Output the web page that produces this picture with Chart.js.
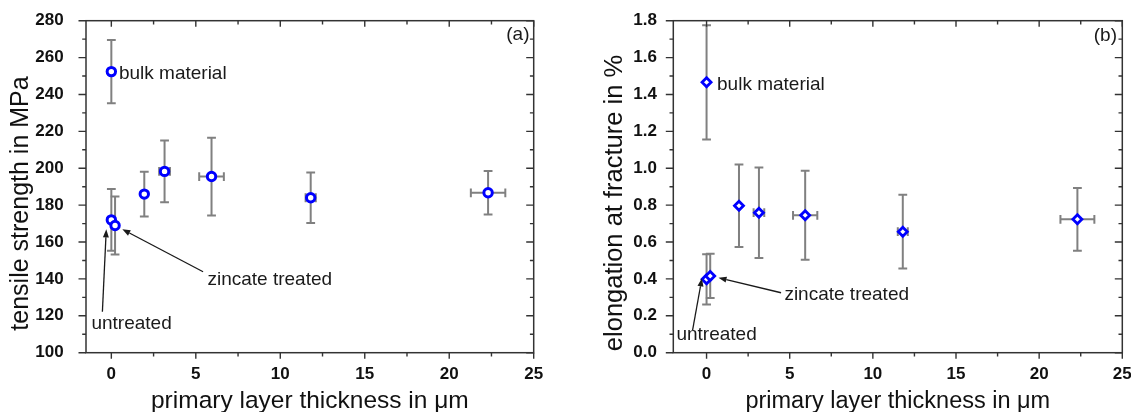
<!DOCTYPE html>
<html>
<head>
<meta charset="utf-8">
<script src="https://cdn.jsdelivr.net/npm/chart.js@4/dist/chart.umd.min.js"></script>
<style>
  html, body { margin: 0; padding: 0; background: #fff; }
  #wrap { position: relative; width: 1131px; height: 412px; overflow: hidden; }
  #cA { position: absolute; left: 0; top: 0; }
  #cB { position: absolute; left: 560px; top: 0; }
</style>
</head>
<body>
<div id="wrap">
  <canvas id="cA" width="560" height="412"></canvas>
  <canvas id="cB" width="571" height="412"></canvas>
</div>
<script>
// ---- data ----
// samples: bulk material, untreated, zincate treated, then coated with primary layer
const sampleNames   = ['bulk material', 'untreated', 'zincate treated', 'layer 2.0', 'layer 3.1', 'layer 5.9', 'layer 11.8', 'layer 22.3'];
const thickness     = [0, 0, 0.22, 1.95, 3.15, 5.93, 11.8, 22.3];     // µm
const thicknessErr  = [0, 0, 0, 0, 0.32, 0.73, 0.3, 1.02];            // µm
const tensile       = [252.4, 172, 169, 186, 198.3, 195.5, 184, 186.7]; // MPa
const tensileErr    = [17.2, 16.7, 15.7, 12.1, 16.7, 21.1, 13.7, 11.8];
const elongation    = [1.466, 0.398, 0.416, 0.797, 0.759, 0.745, 0.656, 0.723]; // %
const elongationErr = [0.31, 0.136, 0.12, 0.224, 0.245, 0.241, 0.2, 0.17];

// tick labels
const xTicks  = [0, 5, 10, 15, 20, 25];
const yTicksA = [100, 120, 140, 160, 180, 200, 220, 240, 260, 280];
const yTicksB = [0.0, 0.2, 0.4, 0.6, 0.8, 1.0, 1.2, 1.4, 1.6, 1.8];

// annotations (data coordinates)
const notesA = [
  { text: 'bulk material',   x: 0.45,  y: 251.1 },
  { text: 'zincate treated', x: 5.69,  y: 139.5 },
  { text: 'untreated',       x: -1.18, y: 115.5 },
  { text: '(a)',             x: 24.75, y: 272.2, align: 'right' }
];
const arrowsA = [
  { from: [-0.53, 122.2], to: [-0.3, 166.9] },
  { from: [5.43, 143.9],  to: [0.65, 166.9] }
];
const notesB = [
  { text: 'bulk material',   x: 0.63,  y: 1.451 },
  { text: 'zincate treated', x: 4.68,  y: 0.312 },
  { text: 'untreated',       x: -1.81, y: 0.096 },
  { text: '(b)',             x: 24.68, y: 1.72, align: 'right' }
];
const arrowsB = [
  { from: [-0.84, 0.123], to: [-0.28, 0.403] },
  { from: [4.48, 0.325],  to: [0.72, 0.406] }
];

const FONT = "'Liberation Sans', Arial, Helvetica, sans-serif";
const AXIS_COLOR = '#333333';
const ERR_COLOR = '#808080';

function decorPlugin(xs, ys, xe, ye, notes, arrows, yTitle, yTitleSize, yTitleX, yTitleY) {
  return {
    id: 'decor',
    beforeDatasetsDraw(chart) {
      const ctx = chart.ctx, sx = chart.scales.x, sy = chart.scales.y;
      ctx.save();
      ctx.strokeStyle = ERR_COLOR;
      ctx.lineWidth = 2;
      const cap = 4.4;
      for (let i = 0; i < xs.length; i++) {
        const px = sx.getPixelForValue(xs[i]);
        const py = sy.getPixelForValue(ys[i]);
        const y1 = sy.getPixelForValue(ys[i] + ye[i]);
        const y2 = sy.getPixelForValue(ys[i] - ye[i]);
        ctx.beginPath();
        ctx.moveTo(px, y1); ctx.lineTo(px, y2);
        ctx.moveTo(px - cap, y1); ctx.lineTo(px + cap, y1);
        ctx.moveTo(px - cap, y2); ctx.lineTo(px + cap, y2);
        ctx.stroke();
        if (xe[i] > 0) {
          const x1 = sx.getPixelForValue(xs[i] - xe[i]);
          const x2 = sx.getPixelForValue(xs[i] + xe[i]);
          ctx.beginPath();
          ctx.moveTo(x1, py); ctx.lineTo(x2, py);
          ctx.moveTo(x1, py - cap); ctx.lineTo(x1, py + cap);
          ctx.moveTo(x2, py - cap); ctx.lineTo(x2, py + cap);
          ctx.stroke();
        }
      }
      ctx.restore();
    },
    afterDraw(chart) {
      const ctx = chart.ctx, sx = chart.scales.x, sy = chart.scales.y;
      const { left, right, top, bottom } = chart.chartArea;
      ctx.save();
      ctx.strokeStyle = AXIS_COLOR;
      ctx.lineWidth = 1.5;
      ctx.strokeRect(left, top, right - left, bottom - top);
      ctx.lineWidth = 1.4;
      const XMAJ = 6, YMAJ = 7.5, MIN = 3.8;
      const xv = sx.ticks.map(t => t.value);
      const yv = sy.ticks.map(t => t.value);
      const xMinor = [], yMinor = [];
      for (let i = 0; i < xv.length - 1; i++) xMinor.push((xv[i] + xv[i + 1]) / 2);
      for (let i = 0; i < yv.length - 1; i++) yMinor.push((yv[i] + yv[i + 1]) / 2);
      ctx.beginPath();
      const xTick = (v, len) => {
        const p = sx.getPixelForValue(v);
        if (p < left - 0.5 || p > right + 0.5) return;
        ctx.moveTo(p, bottom); ctx.lineTo(p, bottom + len);
        ctx.moveTo(p, top); ctx.lineTo(p, top + len);
      };
      const yTick = (v, len) => {
        const p = sy.getPixelForValue(v);
        if (p < top - 0.5 || p > bottom + 0.5) return;
        ctx.moveTo(left, p); ctx.lineTo(left - len, p);
        ctx.moveTo(right, p); ctx.lineTo(right - len, p);
      };
      xv.forEach(v => xTick(v, XMAJ));
      xMinor.forEach(v => xTick(v, MIN));
      yv.forEach(v => yTick(v, YMAJ));
      yMinor.forEach(v => yTick(v, MIN));
      ctx.stroke();

      // y axis title
      ctx.save();
      ctx.translate(yTitleX, yTitleY);
      ctx.rotate(-Math.PI / 2);
      ctx.fillStyle = '#111';
      ctx.font = yTitleSize + 'px ' + FONT;
      ctx.textAlign = 'center';
      ctx.textBaseline = 'middle';
      ctx.fillText(yTitle, 0, 0);
      ctx.restore();

      // annotations
      ctx.fillStyle = '#1a1a1a';
      ctx.font = '19px ' + FONT;
      ctx.textBaseline = 'middle';
      notes.forEach(n => {
        ctx.textAlign = n.align || 'left';
        ctx.fillText(n.text, sx.getPixelForValue(n.x), sy.getPixelForValue(n.y));
      });
      // arrows
      ctx.strokeStyle = '#1a1a1a';
      ctx.lineWidth = 1.3;
      arrows.forEach(a => {
        const x1 = sx.getPixelForValue(a.from[0]), y1 = sy.getPixelForValue(a.from[1]);
        const x2 = sx.getPixelForValue(a.to[0]),   y2 = sy.getPixelForValue(a.to[1]);
        const ang = Math.atan2(y2 - y1, x2 - x1);
        const L = 8, W = 3;
        const bx = x2 - L * Math.cos(ang), by = y2 - L * Math.sin(ang);
        ctx.beginPath();
        ctx.moveTo(x1, y1); ctx.lineTo(bx, by);
        ctx.stroke();
        ctx.beginPath();
        ctx.moveTo(x2, y2);
        ctx.lineTo(bx + W * Math.sin(ang), by - W * Math.cos(ang));
        ctx.lineTo(bx - W * Math.sin(ang), by + W * Math.cos(ang));
        ctx.closePath();
        ctx.fill();
      });
      ctx.restore();
    }
  };
}

function makeChart(id, cfg) {
  const pts = thickness.map((x, i) => ({ x: x, y: cfg.values[i] }));
  return new Chart(document.getElementById(id), {
    type: 'scatter',
    data: {
      datasets: [{
        data: pts,
        pointStyle: cfg.pointStyle,
        pointRadius: cfg.radius,
        pointBorderWidth: cfg.borderWidth,
        pointBorderColor: '#0000ff',
        pointBackgroundColor: '#ffffff',
        showLine: false
      }]
    },
    options: {
      responsive: false,
      animation: false,
      events: [],
      layout: { padding: { left: 0, top: 20.7, right: cfg.padRight, bottom: 0 } },
      plugins: { legend: { display: false }, tooltip: { enabled: false } },
      scales: {
        x: {
          type: 'linear',
          min: cfg.xMin, max: 25,
          afterBuildTicks: s => { s.ticks = xTicks.map(v => ({ value: v })); },
          afterFit: s => { s.height = 59.3; s.paddingLeft = 0; s.paddingRight = 0; },
          grid: { display: false },
          border: { display: false },
          ticks: {
            color: '#111',
            font: { family: FONT, size: 17, weight: 'bold' },
            padding: 3,
            maxRotation: 0,
            autoSkip: false,
            callback: v => String(v)
          },
          title: {
            display: true,
            text: 'primary layer thickness in \u03bcm',
            color: '#111',
            font: { family: FONT, size: cfg.xTitleSize, lineHeight: 0.9 },
            padding: { top: 0, bottom: 0 }
          }
        },
        y: {
          type: 'linear',
          min: cfg.yMin, max: cfg.yMax,
          afterBuildTicks: s => { s.ticks = cfg.yTicks.map(v => ({ value: v })); },
          afterFit: s => { s.width = cfg.yWidth; s.paddingTop = 0; s.paddingBottom = 0; },
          grid: { display: false },
          border: { display: false },
          ticks: {
            color: '#111',
            font: { family: FONT, size: 17, weight: 'bold' },
            padding: cfg.yTickPad,
            autoSkip: false,
            callback: cfg.yFmt
          },
          title: { display: false }
        }
      }
    },
    plugins: [decorPlugin(thickness, cfg.values, thicknessErr, cfg.errors, cfg.notes, cfg.arrows,
                          cfg.yTitle, cfg.yTitleSize, cfg.yTitleX, cfg.yTitleY)]
  });
}

makeChart('cA', {
  values: tensile, errors: tensileErr,
  pointStyle: 'circle', radius: 4.2, borderWidth: 3,
  xMin: -1.5, yMin: 100, yMax: 280, yTicks: yTicksA,
  yFmt: v => String(v),
  yWidth: 86, yTickPad: 14.3, padRight: 26.3,
  xTitleSize: 24.5,
  yTitle: 'tensile strength in MPa', yTitleSize: 25, yTitleX: 21.5, yTitleY: 203.5,
  notes: notesA, arrows: arrowsA
});

makeChart('cB', {
  values: elongation, errors: elongationErr,
  pointStyle: 'rectRot', radius: 4.5, borderWidth: 2.8,
  xMin: -2, yMin: 0, yMax: 1.8, yTicks: yTicksB,
  yFmt: v => Number(v).toFixed(1),
  yWidth: 113.3, yTickPad: 8.3, padRight: 8.7,
  xTitleSize: 23.5,
  yTitle: 'elongation at fracture in %', yTitleSize: 25.5, yTitleX: 55, yTitleY: 203,
  notes: notesB, arrows: arrowsB
});
</script>
</body>
</html>
